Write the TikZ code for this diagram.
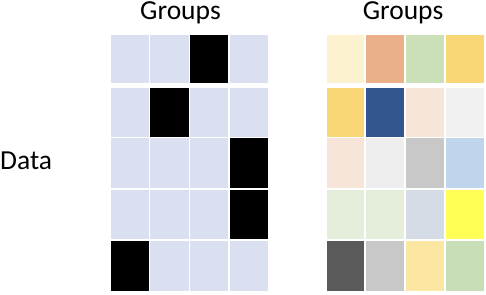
\documentclass[tikz,border=0pt]{standalone}
\usepackage{fontspec}
\setmainfont{Carlito}
\definecolor{lb}{HTML}{DAE0F0}
\definecolor{bk}{HTML}{000000}
% left grid colours
\colorlet{L11}{lb}\colorlet{L12}{lb}\colorlet{L13}{bk}\colorlet{L14}{lb}
\colorlet{L21}{lb}\colorlet{L22}{bk}\colorlet{L23}{lb}\colorlet{L24}{lb}
\colorlet{L31}{lb}\colorlet{L32}{lb}\colorlet{L33}{lb}\colorlet{L34}{bk}
\colorlet{L41}{lb}\colorlet{L42}{lb}\colorlet{L43}{lb}\colorlet{L44}{bk}
\colorlet{L51}{bk}\colorlet{L52}{lb}\colorlet{L53}{lb}\colorlet{L54}{lb}
% right grid colours
\definecolor{R11}{HTML}{FDF2D0}\definecolor{R12}{HTML}{EAB08A}\definecolor{R13}{HTML}{CBDFB8}\definecolor{R14}{HTML}{FAD776}
\definecolor{R21}{HTML}{FAD776}\definecolor{R22}{HTML}{335590}\definecolor{R23}{HTML}{F8E5D9}\definecolor{R24}{HTML}{F1F1F1}
\definecolor{R31}{HTML}{F8E5D9}\definecolor{R32}{HTML}{EEEEEE}\definecolor{R33}{HTML}{C8C8C8}\definecolor{R34}{HTML}{BED5EC}
\definecolor{R41}{HTML}{E4EEDB}\definecolor{R42}{HTML}{E4EEDB}\definecolor{R43}{HTML}{D6DCE5}\definecolor{R44}{HTML}{FFFF55}
\definecolor{R51}{HTML}{5A5A5A}\definecolor{R52}{HTML}{C8C8C8}\definecolor{R53}{HTML}{FBE6A2}\definecolor{R54}{HTML}{C8DEB6}
\begin{document}
\begin{tikzpicture}[x=1pt,y=-1pt,
  cell/.style={inner sep=0pt, outer sep=0pt, anchor=north west, draw=none},
  lab/.style={font=\fontsize{27.5}{31}\selectfont, inner sep=0pt, text height=16.5pt, text depth=5pt}]
\useasboundingbox (0,0) rectangle (486,294);
\foreach \r/\yt/\yb in {1/35/83,2/88/137,3/138/188,4/190/239,5/241/291}{
  \foreach \c/\xl/\xr/\xxl/\xxr in {1/111/149/327/364,2/150/189/366/404,3/190/228/406/444,4/230/268/446/484}{
    \pgfmathsetmacro\w{\xr-\xl}
    \pgfmathsetmacro\ww{\xxr-\xxl}
    \pgfmathsetmacro\h{\yb-\yt}
    \node[cell, fill=L\r\c, minimum width=\w pt, minimum height=\h pt] (L-\r-\c) at (\xl,\yt) {};
    \node[cell, fill=R\r\c, minimum width=\ww pt, minimum height=\h pt] (R-\r-\c) at (\xxl,\yt) {};
  }
}
\node[lab, anchor=base] (g1) at (180.5,19.5) {Groups};
\node[lab, anchor=base] (g2) at (403,19.5) {Groups};
\node[lab, anchor=base west] (data) at (0,169) {Data};
\end{tikzpicture}
\end{document}
